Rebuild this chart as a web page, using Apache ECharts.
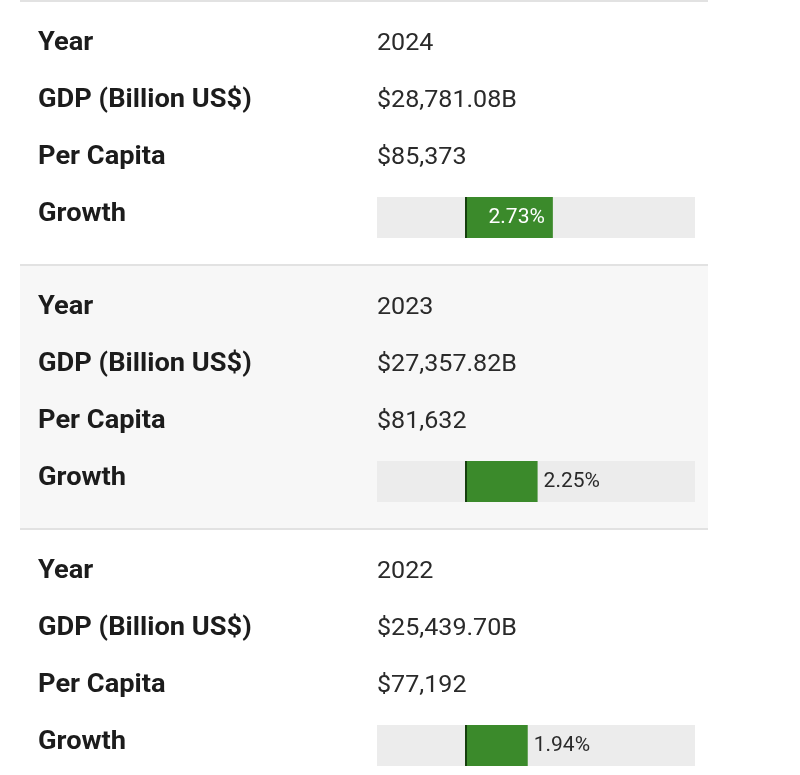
<!DOCTYPE html>
<html>
<head>
<meta charset="utf-8">
<script src="https://cdn.jsdelivr.net/npm/echarts@6/dist/echarts.min.js"></script>
<style>html,body{margin:0;padding:0;background:#fff}#c{width:800px;height:775px}</style>
</head>
<body>
<div id="c"></div>
<script>
var years = ['2024', '2023', '2022'];
var gdp = ['$28,781.08B', '$27,357.82B', '$25,439.70B'];
var perCapita = ['$85,373', '$81,632', '$77,192'];
var growth = [2.73, 2.25, 1.94];
var rowLabels = ['Year', 'GDP (Billion US$)', 'Per Capita', 'Growth'];

var chart = echarts.init(document.getElementById('c'), null, {renderer: 'canvas'});
var secH = 264, rowGap = 57, firstRow = 44;
var grids = [], xAxes = [], yAxes = [], series = [], graphics = [];

// section backgrounds & dividers
graphics.push({type: 'rect', shape: {x: 20, y: secH, width: 688, height: secH}, style: {fill: '#f7f7f7'}, silent: true, z: -10});
for (var d = 0; d < 3; d++) {
  graphics.push({type: 'rect', shape: {x: 20, y: d * secH, width: 688, height: 2}, style: {fill: '#e2e2e2'}, silent: true});
}

years.forEach(function (yr, i) {
  var base = i * secH;
  var values = [yr, gdp[i], perCapita[i]];
  rowLabels.forEach(function (lab, r) {
    graphics.push({type: 'text', x: 38, y: base + firstRow + r * rowGap, scaleX: 1.09,
      style: {text: lab, font: 'bold 25px Roboto', fill: '#1c1c1c', verticalAlign: 'middle'}});
    if (r < 3) {
      graphics.push({type: 'text', x: 377, y: base + firstRow + r * rowGap, scaleX: 1.045,
        style: {text: values[r], font: '24px Roboto', fill: '#2a2a2a', verticalAlign: 'middle'}});
    }
  });
  grids.push({left: 377, width: 318, top: base + 197, height: 41});
  xAxes.push({gridIndex: i, type: 'value', min: -2.8, max: 7.2, show: false});
  yAxes.push({gridIndex: i, type: 'category', data: [yr], show: false});
  var inside = growth[i] > 2.5;
  series.push({
    type: 'bar', xAxisIndex: i, yAxisIndex: i, barWidth: 41,
    showBackground: true, backgroundStyle: {color: '#ececec'},
    itemStyle: {color: '#3b8a2b'},
    data: [growth[i]],
    label: {
      show: true,
      position: inside ? 'insideRight' : 'right',
      distance: inside ? 8 : 6,
      formatter: function (p) { return p.value.toFixed(2) + '%'; },
      color: inside ? '#ffffff' : '#2a2a2a',
      fontFamily: 'Roboto', fontSize: 21
    },
    markLine: {silent: true, symbol: 'none', label: {show: false},
      lineStyle: {color: '#153f0d', width: 2, type: 'solid'},
      data: [{xAxis: 0}]},
    animation: false
  });
});

chart.setOption({
  animation: false,
  grid: grids, xAxis: xAxes, yAxis: yAxes, series: series,
  graphic: graphics
});
</script>
</body>
</html>
